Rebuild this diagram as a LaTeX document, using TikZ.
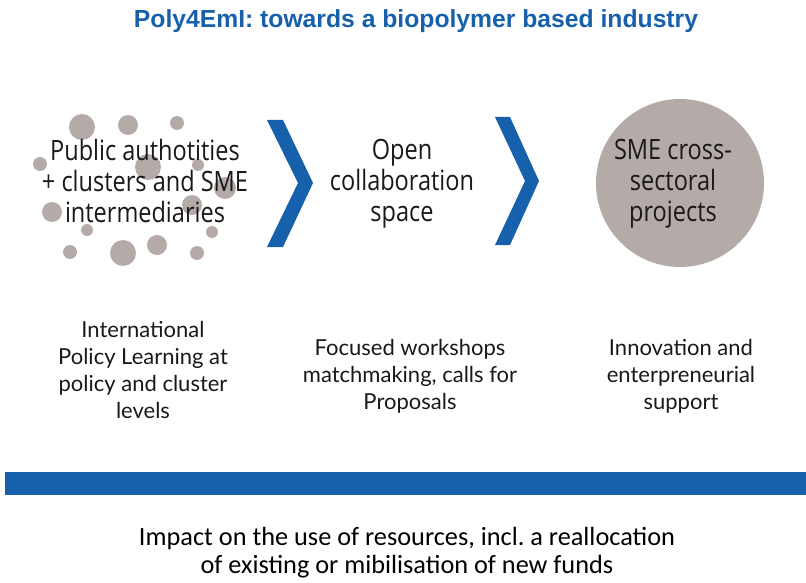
\documentclass[tikz,border=0pt]{standalone}
\usepackage{fontspec}
\usepackage{xcolor}
\usetikzlibrary{positioning}
\setmainfont{Lato}
\newfontfamily\headfont{Liberation Sans}
\newfontfamily\stagefont[FakeStretch=0.84]{Open Sans}
\newfontfamily\notefont{Lato}
\newfontfamily\impactfont{Carlito}
\definecolor{polyblue}{RGB}{22, 96, 172}
\definecolor{dotgray}{RGB}{180, 170, 168}

\tikzset{
  stage/.style={align=center, text=black!90, font=\stagefont\fontsize{28}{31}\selectfont},
  note/.style={align=center, text=black!90, font=\notefont\fontsize{22}{27}\selectfont},
  chevron/.style={fill=polyblue, draw=none},
  dot/.style={fill=dotgray, draw=none}
}

\begin{document}
\begin{tikzpicture}[x=1pt, y=-1pt]
  \useasboundingbox (0,0) rectangle (806,583);
  \node[polyblue, font=\headfont\bfseries\fontsize{24.7}{28}\selectfont] (title) at (416,21)
    {Poly4EmI: towards a biopolymer based industry};

  % cloud of actors
  \foreach \x/\y/\r in {82/127/13, 128/125/10, 177/123/7, 40/164/7, 148/167/13,
      198/165/6, 225/188/11, 52/212/10, 192/205/10, 87/230/6, 212/232/6,
      70/252/7, 123/253/13, 157/245/10, 197/253/7}
    \fill[dot] (\x,\y) circle (\r);
  \node[stage] (actors) at (145,181) {Public authotities\\+ clusters and SME\\intermediaries};

  % chevrons between the stages
  \fill[chevron] (267,120) -- (283,120) -- (313,183) -- (283,247) -- (267,247) -- (298,183) -- cycle;
  \node[stage] (space) at (402,184) {Open\\collaboration\\space};
  \fill[chevron] (495,117) -- (510,117) -- (539,181) -- (510,245) -- (495,245) -- (525,181) -- cycle;

  \fill[dotgray] (680,183) circle (84);
  \node[stage] (projects) at (673,184) {SME cross-\\sectoral\\projects};

  % what each stage offers
  \node[note] (learning) at (143,370) {International\\Policy Learning at\\policy and cluster\\levels};
  \node[note] (workshops) at (410,376) {Focused workshops\\matchmaking, calls for\\Proposals};
  \node[note] (support) at (681,376) {Innovation and\\enterpreneurial\\support};

  \fill[polyblue] (5,472) rectangle (806,495);
  \node[align=center, font=\impactfont\fontsize{26.3}{28}\selectfont] (impact) at (407,553)
    {Impact on the use of resources, incl.\ a reallocation\\of existing or mibilisation of new funds};
\end{tikzpicture}
\end{document}
